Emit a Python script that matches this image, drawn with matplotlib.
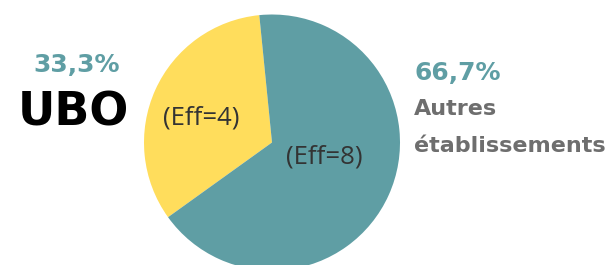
import matplotlib
matplotlib.use('Agg')
import matplotlib.pyplot as plt

W, H = 611, 265
DPI = 100

labels = ['UBO', 'Autres', 'établissements']
counts = [4, 8]
pct_labels = ['33,3%', '66,7%']
eff_labels = ['(Eff=4)', '(Eff=8)']

YELLOW = '#FFDD5C'
TEAL = '#5F9EA4'
GREY = '#6E6E6E'
DARK = '#333333'

fig = plt.figure(figsize=(W / DPI, H / DPI), dpi=DPI)
ax = fig.add_axes([0, 0, 1, 1])

cx, cy, r = 272, H - 142.5, 128
wedges, _ = ax.pie(counts, colors=[YELLOW, TEAL], startangle=95.7,
                   counterclock=True, center=(cx, cy), radius=r,
                   wedgeprops=dict(linewidth=0))

ax.set_xlim(0, W)
ax.set_ylim(0, H)
ax.set_aspect('equal')
ax.axis('off')

# labels inside the slices
ax.text(201, H - 118, eff_labels[0], ha='center', va='center',
        fontsize=18.5, color=DARK, family='Open Sans')
ax.text(324, H - 157, eff_labels[1], ha='center', va='center',
        fontsize=18.5, color=DARK, family='Open Sans')

# left side: UBO
ax.text(77, H - 65, pct_labels[0], ha='center', va='center',
        fontsize=18, fontweight='bold', color=TEAL, family='DejaVu Sans')
ax.text(73, H - 113, labels[0], ha='center', va='center',
        fontsize=33, fontweight='bold', color='black', family='DejaVu Sans')

# right side: others
ax.text(414, H - 73, pct_labels[1], ha='left', va='center',
        fontsize=18, fontweight='bold', color=TEAL, family='DejaVu Sans')
ax.text(414, H - 115, labels[1], ha='left', va='baseline',
        fontsize=16, fontweight='bold', color=GREY, family='DejaVu Sans')
ax.text(414, H - 152, labels[2], ha='left', va='baseline',
        fontsize=16, fontweight='bold', color=GREY, family='DejaVu Sans')

fig.savefig('out.png', dpi=DPI, facecolor='white')
plt.close()
